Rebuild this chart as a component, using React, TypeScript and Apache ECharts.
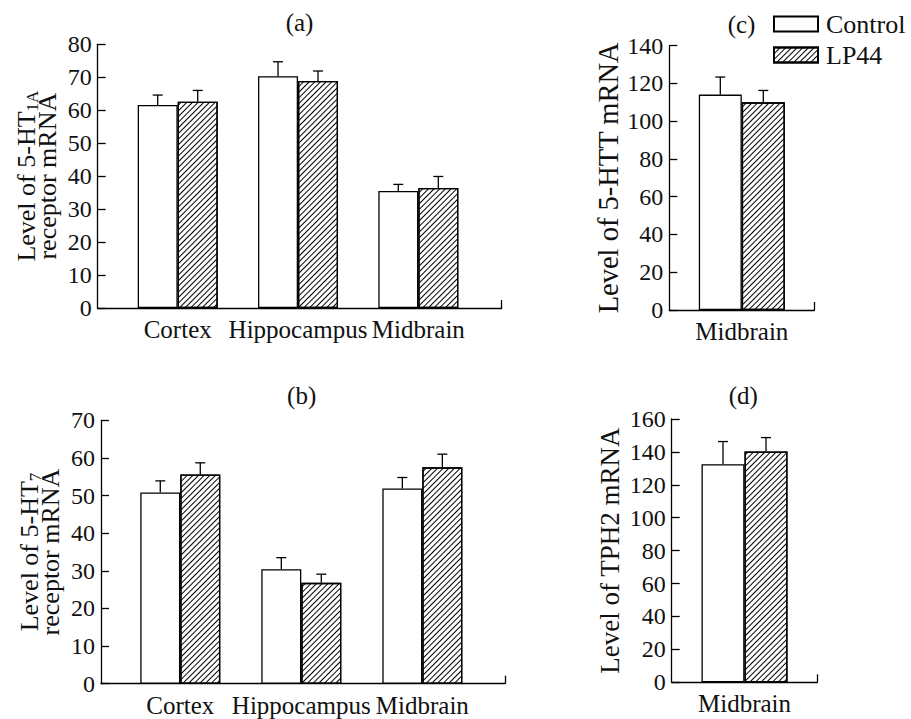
import React, { useEffect, useRef } from 'react';
import * as echarts from 'echarts';

// ---------- data ----------
const categoriesAB = ['Cortex', 'Hippocampus', 'Midbrain'];
const categoriesCD = ['Midbrain'];
const seriesNames = ['Control', 'LP44'];

const aControl = [61.6, 70.3, 35.5];
const aControlErr = [3.0, 4.4, 2.0];
const aLP44 = [62.6, 68.9, 36.4];
const aLP44Err = [3.4, 3.0, 3.5];

const bControl = [50.8, 30.4, 51.9];
const bControlErr = [3.1, 3.1, 2.9];
const bLP44 = [55.6, 26.8, 57.5];
const bLP44Err = [3.1, 2.3, 3.5];

const cControl = [114.1];
const cControlErr = [9.3];
const cLP44 = [110.0];
const cLP44Err = [6.3];

const dControl = [132.5];
const dControlErr = [13.8];
const dLP44 = [140.2];
const dLP44Err = [8.5];

// y axis ranges (tick labels come from these)
const yMaxes = [80, 70, 140, 160];
const yIntervals = [10, 10, 20, 20];

const panelTitles = ['(a)', '(b)', '(c)', '(d)'];
const yNames = [
  '{t|Level of 5-HT}{s|1A}\n{u|receptor mRNA}',
  '{t|Level of 5-HT}{s|7}\n{u|receptor mRNA}',
  '{one|Level of 5-HTT mRNA}',
  '{one|Level of TPH2 mRNA}',
];

// ---------- layout ----------
const FONT = '"Liberation Serif", "Times New Roman", Times, serif';
const INK = '#111';

const panels = [
  { grid: { left: 97.7, top: 44.3, width: 404, height: 263.7 }, xMin: 0.335, xMax: 3.693, cats: categoriesAB,
    ctrl: aControl, ctrlErr: aControlErr, lp: aLP44, lpErr: aLP44Err, barWidth: 40, nameGap: 44, nameSize: 26, title: [299.5, 22] },
  { grid: { left: 101, top: 420.3, width: 404, height: 263.4 }, xMin: 0.345, xMax: 3.683, cats: categoriesAB,
    ctrl: bControl, ctrlErr: bControlErr, lp: bLP44, lpErr: bLP44Err, barWidth: 40, nameGap: 44, nameSize: 26, title: [301.7, 395] },
  { grid: { left: 669.3, top: 45.7, width: 145, height: 264.3 }, xMin: 0, xMax: 2, cats: categoriesCD,
    ctrl: cControl, ctrlErr: cControlErr, lp: cLP44, lpErr: cLP44Err, barWidth: 43, nameGap: 45, nameSize: 28.5, title: [741.5, 24] },
  { grid: { left: 671.7, top: 419, width: 145.6, height: 263.3 }, xMin: 0, xMax: 2, cats: categoriesCD,
    ctrl: dControl, ctrlErr: dControlErr, lp: dLP44, lpErr: dLP44Err, barWidth: 43, nameGap: 48, nameSize: 27, title: [743.3, 395] },
];

const hatch = {
  symbol: 'rect',
  symbolSize: 1,
  color: '#000',
  dashArrayX: [1, 0],
  dashArrayY: [1, 3],
  rotation: -Math.PI / 4,
};

function errSeries(idx: number, values: number[], errs: number[], sign: number, barWidth: number) {
  return {
    type: 'custom',
    name: 'err' + idx + '_' + sign,
    xAxisIndex: idx,
    yAxisIndex: idx,
    silent: true,
    z: 5,
    data: values.map((v, i) => [i + 1, v, errs[i]]),
    encode: { x: 0, y: 1 },
    renderItem: (params: any, api: any) => {
      const x = api.value(0);
      const y = api.value(1);
      const e = api.value(2);
      const top = api.coord([x, y]);
      const end = api.coord([x, y + e]);
      const cx = top[0] + (sign * barWidth) / 2;
      const st = { stroke: '#000', lineWidth: 1.3 };
      return {
        type: 'group',
        children: [
          { type: 'line', shape: { x1: cx, y1: top[1], x2: cx, y2: end[1] }, style: st },
          { type: 'line', shape: { x1: cx - 5, y1: end[1], x2: cx + 5, y2: end[1] }, style: st },
        ],
      };
    },
  };
}

function buildOption() {
  const grid: any[] = [];
  const xAxis: any[] = [];
  const yAxis: any[] = [];
  const series: any[] = [];
  const graphic: any[] = [];

  panels.forEach((p, i) => {
    grid.push({ ...p.grid, outerBoundsMode: 'none', containLabel: false });
    xAxis.push({
      type: 'value',
      gridIndex: i,
      min: p.xMin,
      max: p.xMax,
      splitLine: { show: false },
      axisLine: { show: true, lineStyle: { color: '#000', width: 1.3 } },
      axisTick: { show: true, inside: true, length: 8, customValues: [p.xMax], lineStyle: { color: '#000', width: 1.3 } },
      axisLabel: {
        customValues: p.cats.map((_, k) => k + 1),
        formatter: (v: number) => p.cats[Math.round(v) - 1] || '',
        fontFamily: FONT,
        fontSize: 25,
        color: INK,
        margin: 9,
      },
    });
    yAxis.push({
      type: 'value',
      gridIndex: i,
      min: 0,
      max: yMaxes[i],
      interval: yIntervals[i],
      splitLine: { show: false },
      axisLine: { show: true, lineStyle: { color: '#000', width: 1.3 } },
      axisTick: { show: true, inside: true, length: 8, lineStyle: { color: '#000', width: 1.3 } },
      axisLabel: { fontFamily: FONT, fontSize: 24, color: INK, margin: 6 },
      name: yNames[i],
      nameLocation: 'middle',
      nameGap: p.nameGap,
      nameTextStyle: {
        fontFamily: FONT,
        fontSize: p.nameSize,
        color: INK,
        rich: {
          t: { fontFamily: FONT, fontSize: 26, color: INK, lineHeight: 29 },
          s: { fontFamily: FONT, fontSize: 17, color: INK, lineHeight: 17, verticalAlign: 'bottom' },
          u: { fontFamily: FONT, fontSize: 26, color: INK, lineHeight: 13 },
          one: { fontFamily: FONT, fontSize: p.nameSize, color: INK, lineHeight: p.nameSize },
        },
      },
    });
    series.push({
      type: 'bar',
      name: seriesNames[0],
      xAxisIndex: i,
      yAxisIndex: i,
      barWidth: p.barWidth,
      barGap: '0%',
      data: p.ctrl.map((v, k) => [k + 1, v]),
      itemStyle: { color: '#fff', borderColor: '#000', borderWidth: 1.3 },
    });
    series.push({
      type: 'bar',
      name: seriesNames[1],
      xAxisIndex: i,
      yAxisIndex: i,
      barWidth: p.barWidth,
      barGap: '0%',
      data: p.lp.map((v, k) => [k + 1, v]),
      itemStyle: { color: '#fff', borderColor: '#000', borderWidth: 1.3, decal: hatch },
    });
    series.push(errSeries(i, p.ctrl, p.ctrlErr, -1, p.barWidth));
    series.push(errSeries(i, p.lp, p.lpErr, 1, p.barWidth));
    graphic.push({
      type: 'text',
      x: p.title[0],
      y: p.title[1],
      style: { text: panelTitles[i], fontFamily: FONT, fontSize: 25, fill: INK, align: 'center', verticalAlign: 'middle' },
    });
  });

  return {
    animation: false,
    backgroundColor: '#fff',
    grid,
    xAxis,
    yAxis,
    series,
    graphic,
    legend: {
      data: seriesNames,
      orient: 'vertical',
      left: 773,
      top: 11,
      padding: 0,
      itemWidth: 44,
      itemHeight: 15,
      itemGap: 5,
      icon: 'rect',
      selectedMode: false,
      textStyle: { fontFamily: FONT, fontSize: 26, color: INK, lineHeight: 26, padding: [0, 0, 0, 3] },
    },
  };
}

export default function App() {
  const ref = useRef<HTMLDivElement>(null);
  useEffect(() => {
    if (!ref.current) return;
    const chart = echarts.init(ref.current, undefined, { renderer: 'svg' });
    chart.setOption(buildOption() as any);
    return () => chart.dispose();
  }, []);
  return <div ref={ref} style={{ position: 'fixed', left: 0, top: 0, width: 911, height: 719 }} />;
}
